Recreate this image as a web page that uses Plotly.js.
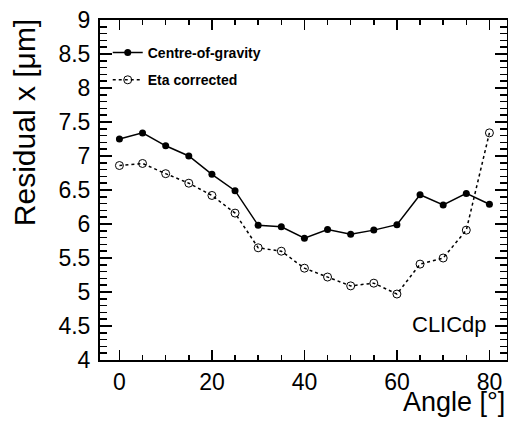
<!DOCTYPE html>
<html>
<head>
<meta charset="utf-8">
<script src="https://cdn.plot.ly/plotly-3.0.1.min.js"></script>
<style>html,body{margin:0;padding:0;background:#fff;}#chart{width:508px;height:421px;}</style>
</head>
<body>
<div id="chart"></div>
<script>
const angles = [0, 5, 10, 15, 20, 25, 30, 35, 40, 45, 50, 55, 60, 65, 70, 75, 80];
const centreOfGravity = [7.25, 7.34, 7.15, 7.00, 6.73, 6.49, 5.98, 5.96, 5.79, 5.92, 5.85, 5.91, 5.99, 6.43, 6.28, 6.45, 6.29];
const etaCorrected = [6.86, 6.89, 6.74, 6.60, 6.42, 6.16, 5.65, 5.60, 5.35, 5.22, 5.09, 5.13, 4.97, 5.41, 5.50, 5.91, 7.34];
const seriesNames = ["Centre-of-gravity", "Eta corrected"];
const xTickVals = [0, 20, 40, 60, 80];
const yTickVals = [4, 4.5, 5, 5.5, 6, 6.5, 7, 7.5, 8, 8.5, 9];

const FONT = "Liberation Sans, Arial, Helvetica, sans-serif";

const traces = [
  {
    x: angles, y: centreOfGravity, name: seriesNames[0], type: "scatter", mode: "lines+markers",
    legendgroup: "a",
    line: {color: "#000", width: 1.5},
    marker: {symbol: "circle", size: 7, color: "#000"}
  },
  {
    x: angles, y: etaCorrected, name: seriesNames[1], type: "scatter", mode: "lines+markers",
    legendgroup: "b",
    line: {color: "#000", width: 1.5, dash: "3px,3px"},
    marker: {symbol: "circle-open", size: 8, color: "#000", line: {width: 1, color: "#000"}}
  }
];

const layout = {
  width: 508, height: 421,
  margin: {l: 100, r: 1, t: 20, b: 61, pad: 0},
  paper_bgcolor: "#fff", plot_bgcolor: "#fff",
  font: {family: FONT, color: "#000"},
  showlegend: true,
  legend: {
    x: 0.019, y: 0.95, xanchor: "left", yanchor: "top",
    bgcolor: "rgba(0,0,0,0)", borderwidth: 0,
    font: {family: FONT, size: 14, color: "#000", weight: "bold"},
    traceorder: "grouped", tracegroupgap: 6, itemwidth: 30
  },
  xaxis: {
    range: [-4.2, 83.8], showgrid: false, zeroline: false,
    showline: true, linecolor: "#000", linewidth: 2, mirror: "allticks",
    ticks: "inside", ticklen: 10, tickwidth: 1.5, tickcolor: "#000",
    tickmode: "array", tickvals: xTickVals, ticktext: xTickVals.map(String),
    tickfont: {family: FONT, size: 23, color: "#000"},
    minor: {dtick: 5, tick0: 0, ticks: "inside", ticklen: 5, tickwidth: 1.5, tickcolor: "#000", showgrid: false}
  },
  yaxis: {
    range: [4, 9], showgrid: false, zeroline: false,
    showline: true, linecolor: "#000", linewidth: 2, mirror: "allticks",
    ticks: "inside", ticklen: 12, tickwidth: 1.5, tickcolor: "#000",
    tickmode: "array", tickvals: yTickVals, ticktext: yTickVals.map(String),
    tickfont: {family: FONT, size: 23, color: "#000"},
    ticklabelstandoff: 3,
    minor: {dtick: 0.1, tick0: 4, ticks: "inside", ticklen: 7, tickwidth: 1.5, tickcolor: "#000", showgrid: false}
  },
  annotations: [
    {text: "Residual x [μm]", xref: "paper", yref: "paper", x: -0.185, y: 1.009,
     xanchor: "center", yanchor: "top", textangle: -90, showarrow: false,
     font: {family: FONT, size: 30, color: "#000"}},
    {text: "Angle [°]", xref: "paper", yref: "paper", x: 1.0, y: -0.174,
     xanchor: "right", yanchor: "bottom", showarrow: false,
     font: {family: FONT, size: 27, color: "#000"}},
    {text: "CLICdp", xref: "paper", yref: "paper", x: 0.955, y: 0.103,
     xanchor: "right", yanchor: "middle", showarrow: false,
     font: {family: FONT, size: 22, color: "#000"}}
  ]
};

Plotly.newPlot("chart", traces, layout, {displayModeBar: false, staticPlot: true});
</script>
</body>
</html>
